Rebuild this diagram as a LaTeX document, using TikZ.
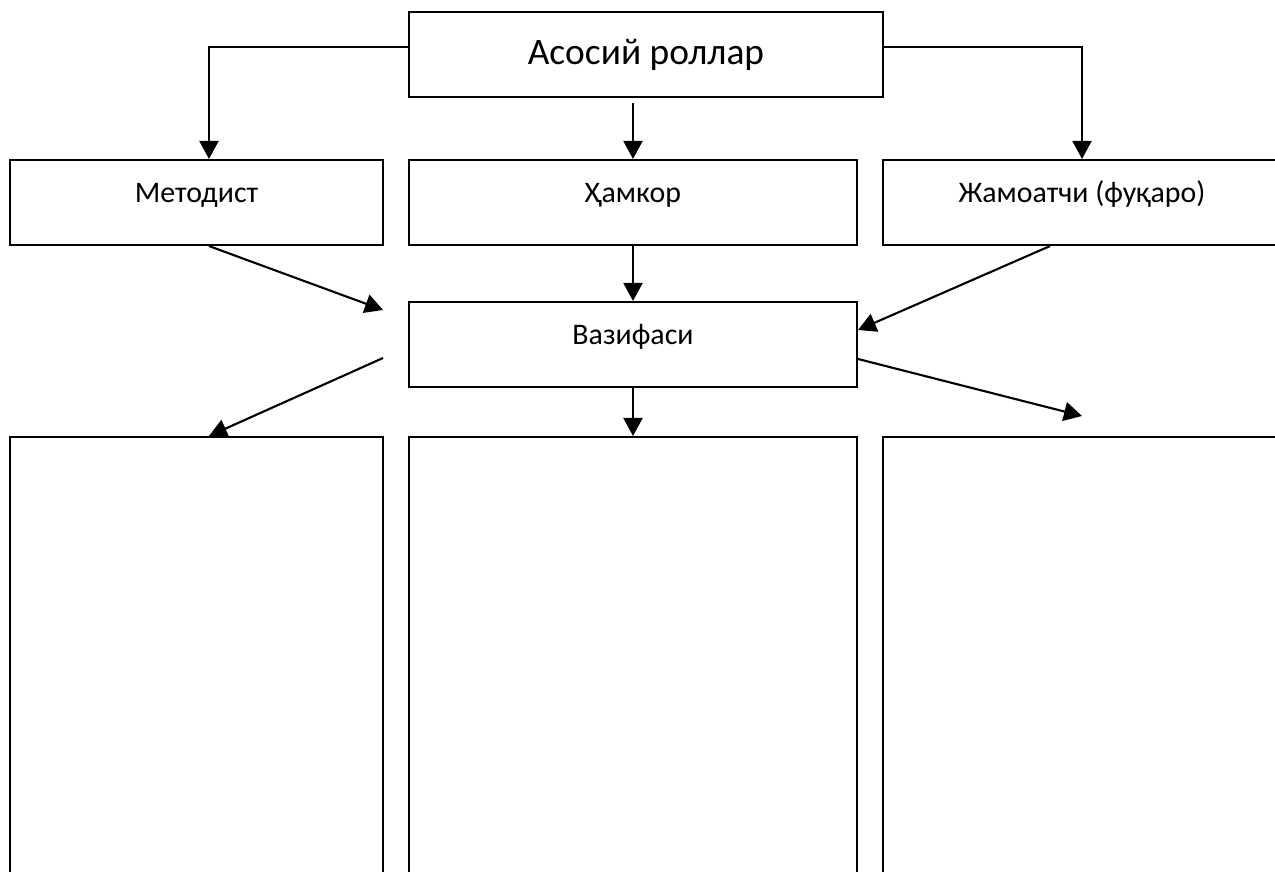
\documentclass[tikz,border=0pt]{standalone}
\usepackage{fontspec}
\setmainfont{Carlito}
\usetikzlibrary{arrows.meta}
\begin{document}
\begin{tikzpicture}[x=0.02cm,y=-0.02cm,line join=miter,line width=1.2pt,
	box/.style={draw,rectangle,minimum height=1.7cm,inner sep=0pt,font=\fontsize{17}{20}\selectfont,text height=0.42cm,text depth=0.42cm},
	tobox/.style={-{Triangle[width=0.38cm,length=0.36cm]}}]
	\useasboundingbox (0,0) rectangle (1275,872);
	\clip (0,0) rectangle (1275,872);
	%% Bosh blok
	\node[draw,rectangle,minimum width=9.48cm,minimum height=1.7cm,inner sep=0pt,font=\fontsize{21.3}{25}\selectfont] (rollar) at (646,54.5) {Асосий роллар};
	%% Ikkinchi qator
	\node[box,minimum width=7.46cm] (metodist) at (196.5,202.5) {Методист};
	\node[box,minimum width=8.96cm] (hamkor) at (633,202.5) {Ҳамкор};
	\node[box,minimum width=7.96cm] (jamoatchi) at (1082,202.5) {Жамоатчи (фуқаро)};
	\node[box,minimum width=8.96cm] (vazifa) at (633,344.5) {Вазифаси};
	%% Pastki bo'sh bloklar
	\node[draw,rectangle,minimum width=7.46cm,minimum height=9.06cm,inner sep=0pt] (quyiA) at (196.5,663.5) {};
	\node[draw,rectangle,minimum width=8.96cm,minimum height=9.06cm,inner sep=0pt] (quyiB) at (633,663.5) {};
	\node[draw,rectangle,minimum width=7.96cm,minimum height=9.06cm,inner sep=0pt] (quyiC) at (1082,663.5) {};
	\coordinate (chapKir) at (383,310);
	\coordinate (chapChiq) at (383,358);
	\coordinate (ongChiq) at (1082,416);
	%% Strelkalar
	\draw[tobox] ([yshift=0.15cm]rollar.west) -| ([xshift=0.25cm]metodist.north);
	\draw[tobox] ([yshift=0.15cm]rollar.east) -| (jamoatchi.north);
	\draw[tobox] ([yshift=1.12cm]hamkor.north) -- (hamkor.north);
	\draw[tobox] ([xshift=0.25cm]metodist.south) -- (chapKir);
	\draw[tobox] (hamkor.south) -- (vazifa.north);
	\draw[tobox] ([xshift=-0.64cm]jamoatchi.south) -- ([yshift=0.29cm]vazifa.east);
	\draw[tobox] (chapChiq) -- ([xshift=0.25cm]quyiA.north);
	\draw[tobox] (vazifa.south) -- (quyiB.north);
	\draw[tobox] ([yshift=-0.29cm]vazifa.east) -- (ongChiq);
\end{tikzpicture}
\end{document}
